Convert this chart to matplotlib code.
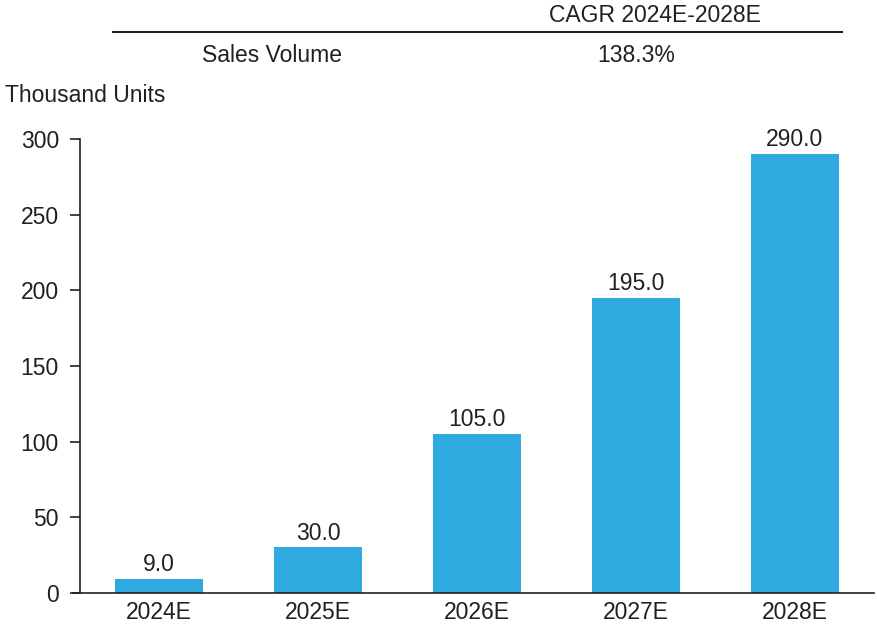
import matplotlib
matplotlib.use("Agg")
from matplotlib import pyplot as plt

plt.rcParams['font.family'] = ['Liberation Sans', 'DejaVu Sans']

years = ['2024E', '2025E', '2026E', '2027E', '2028E']
sales = [9.0, 30.0, 105.0, 195.0, 290.0]
yticks = [0, 50, 100, 150, 200, 250, 300]
cagr_label = 'CAGR 2024E-2028E'
row_label = 'Sales Volume'
cagr_value = '138.3%'
unit_label = 'Thousand Units'

bar_color = '#2EAAE1'
text_color = '#231F20'
fs = 16.5

fig = plt.figure(figsize=(8.77, 6.32), dpi=100)
ax = fig.add_axes([0.091, 0.062, 0.906, 0.718])

x = range(len(years))
ax.bar(x, sales, width=0.555, color=bar_color)
for xi, v in zip(x, sales):
    ax.annotate('%.1f' % v, (xi, v), xytext=(0, 2), textcoords='offset points',
                ha='center', va='bottom', fontsize=fs, color=text_color)

ax.set_xlim(-0.5, 4.5)
ax.set_ylim(0, 300)
ax.set_xticks(list(x))
ax.set_xticklabels(years)
ax.set_yticks(yticks)
ax.tick_params(axis='x', length=0, labelsize=fs, colors=text_color, pad=6)
ax.tick_params(axis='y', length=7, width=1.2, labelsize=fs, colors=text_color, pad=8)
for s in ['top', 'right']:
    ax.spines[s].set_visible(False)
for s in ['left', 'bottom']:
    ax.spines[s].set_linewidth(1.2)
    ax.spines[s].set_color(text_color)
ax.spines['bottom'].set_bounds(-0.54, 4.5)

# header table
fig.text(655 / 877, 1 - 15 / 632, cagr_label, ha='center', va='center', fontsize=fs, color=text_color)
fig.add_artist(plt.Line2D([113 / 877, 842 / 877], [1 - 32 / 632, 1 - 32 / 632],
                          color=text_color, linewidth=1.5))
fig.text(272 / 877, 1 - 55 / 632, row_label, ha='center', va='center', fontsize=fs, color=text_color)
fig.text(636 / 877, 1 - 55 / 632, cagr_value, ha='center', va='center', fontsize=fs, color=text_color)
fig.text(5 / 877, 1 - 95 / 632, unit_label, ha='left', va='center', fontsize=fs, color=text_color)

fig.savefig('out.png', dpi=100)
